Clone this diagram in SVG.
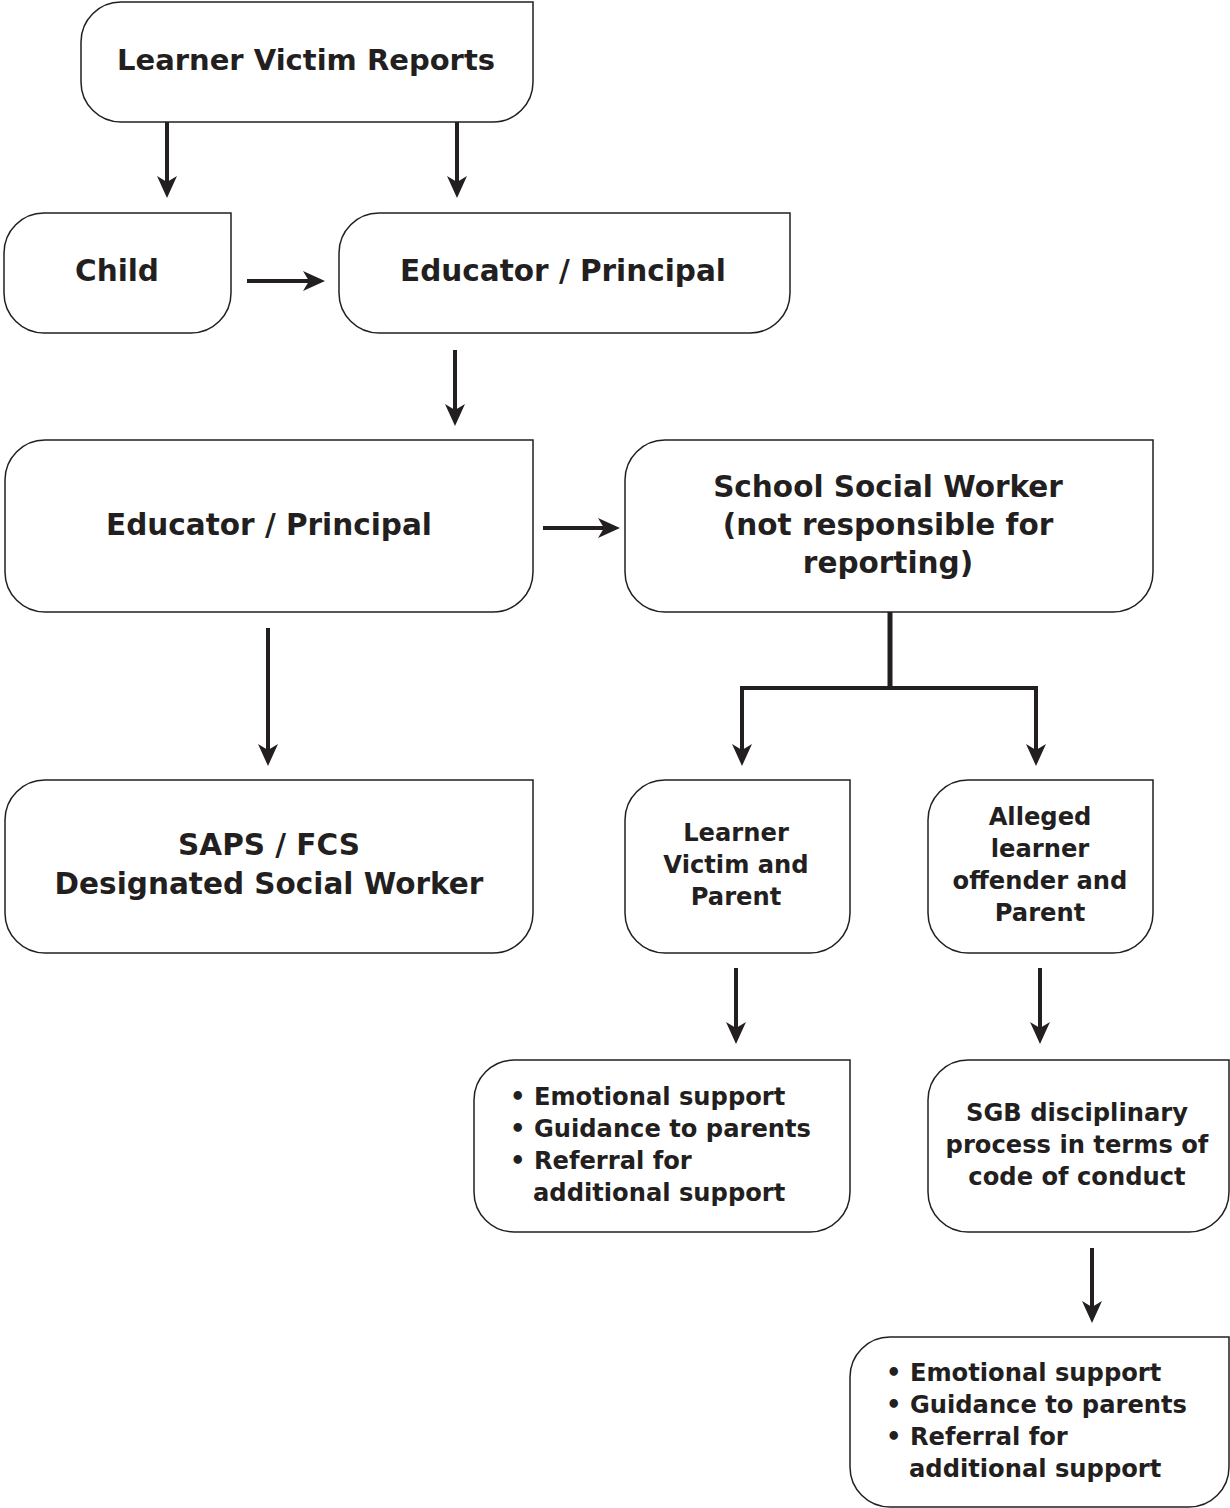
<svg xmlns="http://www.w3.org/2000/svg" width="1230" height="1508" viewBox="0 0 1230 1508">
<style>
.box{fill:#fff;stroke:#231f20;stroke-width:1.5}
text{font-family:"DejaVu Sans","Liberation Sans",sans-serif;font-weight:bold;fill:#231f20}
.t1{font-size:29.5px;text-anchor:middle}
.t2{font-size:24.2px;text-anchor:middle}
.t3{font-size:24.2px}
.c{stroke:#231f20;stroke-width:4;fill:none}
</style>
<defs>
<marker id="ah" markerUnits="userSpaceOnUse" viewBox="0 0 22 20" refX="6" refY="10" markerWidth="22" markerHeight="20" orient="auto">
<path d="M0,0 L22,10 L0,20 L6,10 Z" fill="#231f20"/>
</marker>
</defs>
<rect width="1230" height="1508" fill="#fff"/>
<g id="connectors">
<line class="c" x1="167" y1="122" x2="167" y2="182" marker-end="url(#ah)"/>
<line class="c" x1="457" y1="122" x2="457" y2="182" marker-end="url(#ah)"/>
<line class="c" x1="247" y1="281" x2="309" y2="281" marker-end="url(#ah)"/>
<line class="c" x1="455" y1="350" x2="455" y2="410" marker-end="url(#ah)"/>
<line class="c" x1="543" y1="528" x2="604" y2="528" marker-end="url(#ah)"/>
<line class="c" x1="268" y1="628" x2="268" y2="750" marker-end="url(#ah)"/>
<line class="c" x1="890" y1="612" x2="890" y2="688" style="stroke-width:5"/>
<path class="c" d="M890,688 H742 V750" marker-end="url(#ah)"/>
<path class="c" d="M890,688 H1036 V750" marker-end="url(#ah)"/>
<line class="c" x1="736" y1="968" x2="736" y2="1028" marker-end="url(#ah)"/>
<line class="c" x1="1040" y1="968" x2="1040" y2="1028" marker-end="url(#ah)"/>
<line class="c" x1="1092" y1="1248" x2="1092" y2="1307" marker-end="url(#ah)"/>
</g>
<g id="n1"><path class="box" d="M81,42 A40,40 0 0 1 121,2 H533 V82 A40,40 0 0 1 493,122 H121 A40,40 0 0 1 81,82 Z"/>
<text class="t1" x="306" y="70" style="font-size:29px">Learner Victim Reports</text></g>
<g id="n2"><path class="box" d="M4,253 A40,40 0 0 1 44,213 H231 V293 A40,40 0 0 1 191,333 H44 A40,40 0 0 1 4,293 Z"/>
<text class="t1" x="117" y="281">Child</text></g>
<g id="n3"><path class="box" d="M339,253 A40,40 0 0 1 379,213 H790 V293 A40,40 0 0 1 750,333 H379 A40,40 0 0 1 339,293 Z"/>
<text class="t1" x="563" y="281">Educator / Principal</text></g>
<g id="n4"><path class="box" d="M5,480 A40,40 0 0 1 45,440 H533 V572 A40,40 0 0 1 493,612 H45 A40,40 0 0 1 5,572 Z"/>
<text class="t1" x="269" y="535">Educator / Principal</text></g>
<g id="n5"><path class="box" d="M625,480 A40,40 0 0 1 665,440 H1153 V572 A40,40 0 0 1 1113,612 H665 A40,40 0 0 1 625,572 Z"/>
<text class="t1" x="888" y="497">School Social Worker</text>
<text class="t1" x="888" y="535">(not responsible for</text>
<text class="t1" x="888" y="573">reporting)</text></g>
<g id="n6"><path class="box" d="M5,820 A40,40 0 0 1 45,780 H533 V913 A40,40 0 0 1 493,953 H45 A40,40 0 0 1 5,913 Z"/>
<text class="t1" x="269" y="855">SAPS / FCS</text>
<text class="t1" x="269" y="894">Designated Social Worker</text></g>
<g id="n7"><path class="box" d="M625,820 A40,40 0 0 1 665,780 H850 V913 A40,40 0 0 1 810,953 H665 A40,40 0 0 1 625,913 Z"/>
<text class="t2" x="736" y="841">Learner</text>
<text class="t2" x="736" y="873">Victim and</text>
<text class="t2" x="736" y="905">Parent</text></g>
<g id="n8"><path class="box" d="M928,820 A40,40 0 0 1 968,780 H1153 V913 A40,40 0 0 1 1113,953 H968 A40,40 0 0 1 928,913 Z"/>
<text class="t2" x="1040" y="825">Alleged</text>
<text class="t2" x="1040" y="857">learner</text>
<text class="t2" x="1040" y="889">offender and</text>
<text class="t2" x="1040" y="921">Parent</text></g>
<g id="n9"><path class="box" d="M474,1100 A40,40 0 0 1 514,1060 H850 V1192 A40,40 0 0 1 810,1232 H514 A40,40 0 0 1 474,1192 Z"/>
<text class="t3" x="510" y="1105">• Emotional support</text>
<text class="t3" x="510" y="1137">• Guidance to parents</text>
<text class="t3" x="510" y="1169">• Referral for</text>
<text class="t3" x="533" y="1201">additional support</text></g>
<g id="n10"><path class="box" d="M928,1100 A40,40 0 0 1 968,1060 H1229 V1192 A40,40 0 0 1 1189,1232 H968 A40,40 0 0 1 928,1192 Z"/>
<text class="t2" x="1077" y="1121">SGB disciplinary</text>
<text class="t2" x="1077" y="1153">process in terms of</text>
<text class="t2" x="1077" y="1185">code of conduct</text></g>
<g id="n11"><path class="box" d="M850,1377 A40,40 0 0 1 890,1337 H1229 V1467 A40,40 0 0 1 1189,1507 H890 A40,40 0 0 1 850,1467 Z"/>
<text class="t3" x="886" y="1381">• Emotional support</text>
<text class="t3" x="886" y="1413">• Guidance to parents</text>
<text class="t3" x="886" y="1445">• Referral for</text>
<text class="t3" x="909" y="1477">additional support</text></g>
</svg>
